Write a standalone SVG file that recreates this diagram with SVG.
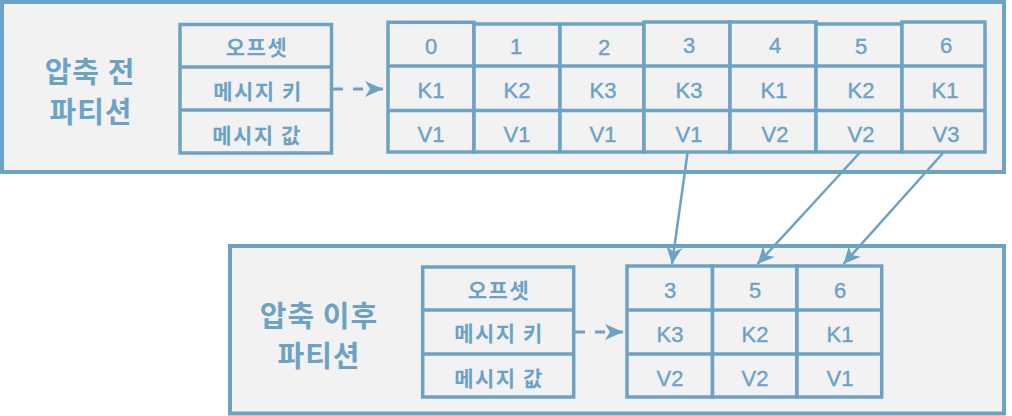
<svg xmlns="http://www.w3.org/2000/svg" width="1012" height="416" viewBox="0 0 1012 416">
<defs>
<style>
.frame{fill:#f2f2f2;stroke:#6ca2c4;stroke-width:4}
.cell{fill:#f2f2f2;stroke:#6ca2c4;stroke-width:3.5}
.div{stroke:#6ca2c4;stroke-width:3.5}
.title{font-family:"Noto Sans CJK KR","Noto Sans",sans-serif;font-weight:bold;font-size:29px;letter-spacing:1px;fill:#6ca2c4;text-anchor:middle;dominant-baseline:central}
.lab{font-family:"Noto Sans CJK KR","Noto Sans",sans-serif;font-weight:bold;font-size:21px;letter-spacing:1.5px;fill:#6ca2c4;text-anchor:middle;dominant-baseline:central}
.num{font-family:"Liberation Sans",Arial,sans-serif;font-size:22px;fill:#6ca2c4;stroke:#6ca2c4;stroke-width:0.4;text-anchor:middle}
.conn{stroke:#6ca2c4;stroke-width:2.5;fill:none}
.dash{stroke:#6ca2c4;stroke-width:3;fill:none;stroke-dasharray:10 10}
</style>
<marker id="ah" markerUnits="userSpaceOnUse" markerWidth="20" markerHeight="20" viewBox="0 -10 18 20" refX="17" refY="0" orient="auto">
<path d="M0,-8 L17,0 L0,8 L5,0 z" fill="#6ca2c4"/>
</marker>
<marker id="ahd" markerUnits="userSpaceOnUse" markerWidth="20" markerHeight="20" viewBox="0 -10 19 20" refX="18" refY="0" orient="auto">
<path d="M0,-8 L18,0 L0,8 L5,0 z" fill="#6ca2c4"/>
</marker>
</defs>

<g id="before-partition">
<rect class="frame" x="2" y="2" width="1002" height="170"/>
<text class="title" x="90" y="70">압축 전</text>
<text class="title" x="91" y="110">파티션</text>
</g>

<g id="before-labels">
<rect class="cell" x="180" y="24.5" width="151.5" height="128.5"/>
<line class="div" x1="180" y1="67" x2="331.5" y2="67"/>
<line class="div" x1="180" y1="110" x2="331.5" y2="110"/>
<text class="lab" x="257" y="46">오프셋</text>
<text class="lab" x="258" y="90">메시지 키</text>
<text class="lab" x="257" y="134">메시지 값</text>
</g>

<g id="before-records">
<g id="before-rec-0">
<rect class="cell" x="388" y="22.3" width="86" height="129.7"/>
<line class="div" x1="388" y1="66" x2="474" y2="66"/><line class="div" x1="388" y1="110.5" x2="474" y2="110.5"/>
<text class="num" x="431" y="54">0</text><text class="num" x="431" y="98">K1</text><text class="num" x="431" y="142">V1</text>
</g>
<g id="before-rec-1">
<rect class="cell" x="474" y="24" width="86" height="128"/>
<line class="div" x1="474" y1="66" x2="560" y2="66"/><line class="div" x1="474" y1="110.5" x2="560" y2="110.5"/>
<text class="num" x="516" y="54">1</text><text class="num" x="517" y="98">K2</text><text class="num" x="517" y="142">V1</text>
</g>
<g id="before-rec-2">
<rect class="cell" x="560" y="24" width="84" height="128"/>
<line class="div" x1="560" y1="66" x2="644" y2="66"/><line class="div" x1="560" y1="110.5" x2="644" y2="110.5"/>
<text class="num" x="604" y="55">2</text><text class="num" x="603" y="98">K3</text><text class="num" x="603" y="142">V1</text>
</g>
<g id="before-rec-3">
<rect class="cell" x="644" y="22" width="86" height="130"/>
<line class="div" x1="644" y1="66" x2="730" y2="66"/><line class="div" x1="644" y1="110.5" x2="730" y2="110.5"/>
<text class="num" x="689" y="53">3</text><text class="num" x="689" y="98">K3</text><text class="num" x="689" y="142">V1</text>
</g>
<g id="before-rec-4">
<rect class="cell" x="730" y="22" width="86" height="130"/>
<line class="div" x1="730" y1="66" x2="816" y2="66"/><line class="div" x1="730" y1="110.5" x2="816" y2="110.5"/>
<text class="num" x="775" y="53">4</text><text class="num" x="774" y="98">K1</text><text class="num" x="775" y="142">V2</text>
</g>
<g id="before-rec-5">
<rect class="cell" x="816" y="24" width="86" height="128"/>
<line class="div" x1="816" y1="66" x2="902" y2="66"/><line class="div" x1="816" y1="110.5" x2="902" y2="110.5"/>
<text class="num" x="861" y="54">5</text><text class="num" x="861" y="98">K2</text><text class="num" x="861" y="142">V2</text>
</g>
<g id="before-rec-6">
<rect class="cell" x="902" y="22" width="83" height="130"/>
<line class="div" x1="902" y1="66" x2="985" y2="66"/><line class="div" x1="902" y1="110.5" x2="985" y2="110.5"/>
<text class="num" x="946" y="53">6</text><text class="num" x="945" y="98">K1</text><text class="num" x="946" y="142">V3</text>
</g>
</g>

<g id="after-partition">
<rect class="frame" x="230" y="246" width="774" height="167.5"/>
<text class="title" x="319" y="314">압축 이후</text>
<text class="title" x="319" y="354">파티션</text>
</g>

<g id="after-labels">
<rect class="cell" x="422.7" y="267" width="151" height="130"/>
<line class="div" x1="422.7" y1="310" x2="573.7" y2="310"/>
<line class="div" x1="422.7" y1="354" x2="573.7" y2="354"/>
<text class="lab" x="499" y="289">오프셋</text>
<text class="lab" x="499" y="332">메시지 키</text>
<text class="lab" x="499" y="377">메시지 값</text>
</g>

<g id="after-records">
<g id="after-rec-3">
<rect class="cell" x="627" y="266" width="85.5" height="131"/>
<line class="div" x1="627" y1="310" x2="712.5" y2="310"/><line class="div" x1="627" y1="354" x2="712.5" y2="354"/>
<text class="num" x="670" y="298">3</text><text class="num" x="670" y="342">K3</text><text class="num" x="670" y="386">V2</text>
</g>
<g id="after-rec-5">
<rect class="cell" x="712.5" y="266" width="84.5" height="131"/>
<line class="div" x1="712.5" y1="310" x2="797" y2="310"/><line class="div" x1="712.5" y1="354" x2="797" y2="354"/>
<text class="num" x="755" y="298">5</text><text class="num" x="755" y="342">K2</text><text class="num" x="755" y="386">V2</text>
</g>
<g id="after-rec-6">
<rect class="cell" x="797" y="266" width="84.7" height="131"/>
<line class="div" x1="797" y1="310" x2="881.7" y2="310"/><line class="div" x1="797" y1="354" x2="881.7" y2="354"/>
<text class="num" x="840" y="298">6</text><text class="num" x="840" y="342">K1</text><text class="num" x="840" y="386">V1</text>
</g>
</g>

<g id="connectors">
<line class="dash" x1="333" y1="89" x2="383" y2="89" marker-end="url(#ahd)"/>
<line class="dash" x1="575" y1="332" x2="623" y2="332" marker-end="url(#ahd)"/>
<line class="conn" x1="687.5" y1="153" x2="672" y2="264" marker-end="url(#ah)"/>
<line class="conn" x1="859.5" y1="153" x2="757.5" y2="264" marker-end="url(#ah)"/>
<line class="conn" x1="943" y1="153" x2="843.5" y2="264" marker-end="url(#ah)"/>
</g>
</svg>
